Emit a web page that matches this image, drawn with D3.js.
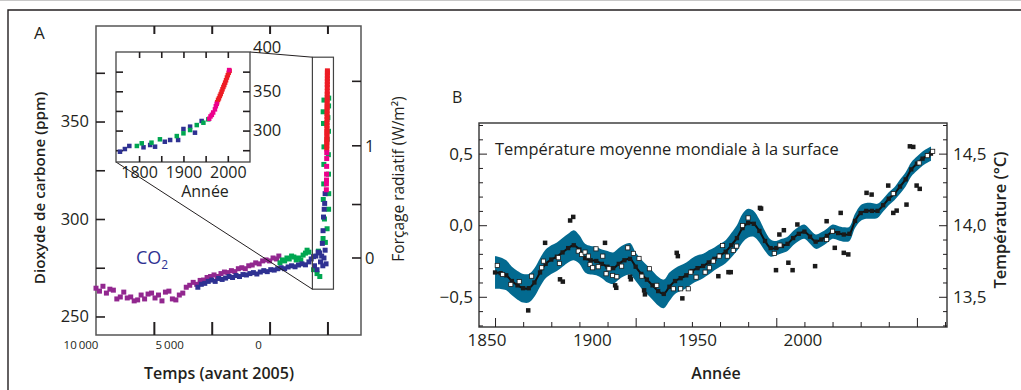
<!DOCTYPE html>
<html>
<head>
<meta charset="utf-8">
<script src="https://cdn.jsdelivr.net/npm/d3@7/dist/d3.min.js"></script>
<style>
  body { margin: 0; background: #fff; }
  svg { display: block; font-family: "Open Sans", sans-serif; }
</style>
</head>
<body>
<svg id="chart" width="1021" height="390"></svg>
<script>
// ---------- panel A : CO2 over the last 10 000 years (years before 2005, ppm) ----------
const purpleCO2 = [
  [10000, 264.5], [9850, 263], [9700, 265.5], [9550, 262], [9400, 264], [9250, 263.5], [9100, 259],
  [8950, 260], [8800, 262.5], [8650, 259.5], [8500, 260], [8350, 258], [8200, 258.5], [8050, 261],
  [7900, 259], [7750, 261.5], [7600, 262], [7450, 259.5], [7300, 261], [7150, 258], [7000, 262.5],
  [6850, 263], [6700, 259], [6550, 258.5], [6400, 261], [6250, 262], [6100, 265], [5950, 266],
  [5800, 267.5], [5650, 266.5], [5500, 268.5], [5350, 268.7], [5200, 270], [5050, 270.5], [4900, 271.3],
  [4750, 270.5], [4600, 272], [4450, 272.8], [4300, 272.5], [4150, 273.5], [4000, 273], [3850, 274.5],
  [3700, 275], [3550, 274.5], [3400, 276], [3250, 276.4], [3100, 277.5], [2950, 277], [2800, 278.5],
  [2650, 279], [2500, 278.5], [2350, 280], [2200, 279.5], [2100, 281]
];
const blueCO2 = [
  [5600, 265], [5450, 266.5], [5300, 267], [5150, 268], [5000, 268.7], [4850, 268], [4700, 269.5],
  [4550, 269], [4400, 269.7], [4250, 270.5], [4100, 270], [3950, 271], [3800, 270.5], [3650, 271.5],
  [3500, 271.3], [3350, 272], [3200, 272.5], [3050, 271.8], [2900, 272.8], [2750, 273.5], [2600, 273],
  [2450, 274], [2300, 273.8], [2150, 274.5], [2000, 275], [1850, 274.5], [1700, 275.4], [1550, 276],
  [1400, 275.5], [1250, 276.4], [1100, 277], [950, 276.5], [800, 278], [700, 279.5], [600, 280.7],
  [560, 276], [500, 281], [450, 274], [400, 283], [340, 282.6], [300, 278], [250, 281], [200, 276],
  [150, 280], [100, 284], [60, 277], [220, 287.5], [190, 294], [170, 301], [140, 305], [120, 308], [100, 313]
];
const greenCO2 = [
  [2050, 277.5], [1950, 279], [1850, 278.5], [1750, 280], [1650, 279.5], [1550, 281], [1450, 280.5],
  [1350, 279], [1250, 280], [1150, 279], [1050, 281.5], [950, 282.5], [880, 284], [800, 283],
  [600, 274], [450, 272], [390, 283.5], [330, 270.5],
  [190, 290], [90, 288], [15, 295], [130, 300], [-50, 305], [180, 310], [-55, 313], [160, 318],
  [-45, 323], [155, 328], [-40, 333], [150, 337], [10, 341], [-45, 345], [170, 349], [-20, 352],
  [185, 355], [-50, 358], [150, 361], [-55, 362]
];
// recent records by calendar year (shared by the main plot and the inset)
const magentaCO2 = [[1958, 315], [1961, 318], [1964, 320], [1967, 323], [1971, 327], [1973, 331], [1975, 334], [2003, 377]];
const redCO2 = [
  [1976, 336], [1977, 337.5], [1978, 339], [1979, 340], [1980, 341], [1981, 342.5], [1982, 344],
  [1983, 345], [1984, 346.5], [1985, 348], [1986, 349.5], [1987, 351], [1988, 352.5], [1989, 354],
  [1990, 355.5], [1991, 357], [1992, 358], [1993, 359.5], [1994, 361], [1995, 362.5], [1996, 364],
  [1997, 365.5], [1998, 367.5], [1999, 369], [2000, 370.5], [2001, 372], [2002, 373.5], [2003, 375],
  [2004, 376]
];
// inset, calendar years
const insetBlue = [
  [1757, 273.1], [1768, 276.5], [1778, 280.4], [1810, 278.7], [1825, 281.6], [1836, 279.5], [1858, 285.8],
  [1870, 288], [1888, 288], [1900, 302], [1915, 305], [1926, 297.3], [1941, 312.2]
];
const insetGreen = [
  [1795, 280.4], [1806, 283.8], [1828, 284.6], [1847, 288.9], [1885, 293], [1900, 296.5],
  [1915, 300.7], [1930, 307], [1945, 310], [1956, 314.3]
];
const co2Ticks = [250, 275, 300, 325, 350, 375];
const co2Labels = [250, 300, 350];
const timeTicks = [7500, 5000, 2500, 0];
const timeLabels = [10000, 5000, 0];
const forcingTicks = [0, 0.5, 1, 1.5];
const forcingLabels = [0, 1];
const insetYearTicks = [1800, 1850, 1900, 1950, 2000];
const insetYearLabels = [1800, 1900, 2000];
const insetCO2Ticks = [275, 300, 325, 350, 375];
const insetCO2Labels = [300, 350, 400];

// ---------- panel B : global mean surface temperature anomaly ----------
// [year, smoothed anomaly, half width of the uncertainty band]
const smoothTemp = [
  [1850, -0.33, 0.115], [1852, -0.335, 0.11], [1854, -0.35, 0.105], [1856, -0.39, 0.1], [1858, -0.42, 0.1],
  [1860, -0.44, 0.1], [1862, -0.44, 0.1], [1864, -0.4, 0.1], [1866, -0.33, 0.1], [1868, -0.27, 0.1],
  [1870, -0.24, 0.1], [1872, -0.22, 0.1], [1874, -0.19, 0.1], [1876, -0.16, 0.1], [1878, -0.14, 0.105],
  [1880, -0.17, 0.1], [1882, -0.23, 0.1], [1884, -0.245, 0.1], [1886, -0.25, 0.1], [1888, -0.27, 0.1],
  [1890, -0.29, 0.11], [1892, -0.3, 0.11], [1894, -0.27, 0.11], [1896, -0.245, 0.11], [1898, -0.235, 0.11],
  [1900, -0.29, 0.1], [1902, -0.34, 0.1], [1904, -0.38, 0.1], [1906, -0.42, 0.1], [1908, -0.46, 0.1],
  [1910, -0.48, 0.1], [1912, -0.43, 0.1], [1914, -0.39, 0.09], [1916, -0.37, 0.09], [1918, -0.35, 0.09],
  [1920, -0.32, 0.09], [1922, -0.3, 0.09], [1924, -0.285, 0.085], [1926, -0.26, 0.085], [1928, -0.235, 0.08],
  [1930, -0.21, 0.08], [1932, -0.185, 0.08], [1934, -0.14, 0.085], [1936, -0.09, 0.09], [1938, -0.02, 0.1],
  [1940, 0.015, 0.1], [1942, 0.01, 0.09], [1944, -0.04, 0.08], [1946, -0.11, 0.07], [1948, -0.16, 0.06],
  [1950, -0.16, 0.05], [1952, -0.145, 0.05], [1954, -0.13, 0.05], [1956, -0.09, 0.05], [1958, -0.06, 0.05],
  [1960, -0.045, 0.05], [1962, -0.08, 0.05], [1964, -0.115, 0.05], [1966, -0.1, 0.05], [1968, -0.075, 0.05],
  [1970, -0.045, 0.05], [1972, -0.055, 0.05], [1974, -0.065, 0.05], [1976, -0.06, 0.05], [1978, 0.03, 0.05],
  [1980, 0.085, 0.055], [1982, 0.1, 0.055], [1984, 0.1, 0.055], [1986, 0.1, 0.05], [1988, 0.14, 0.045],
  [1990, 0.185, 0.045], [1992, 0.22, 0.045], [1994, 0.27, 0.05], [1996, 0.32, 0.05], [1998, 0.39, 0.05],
  [2000, 0.43, 0.05], [2002, 0.465, 0.05], [2004, 0.49, 0.05], [2005, 0.5, 0.05]
];
const annualTemp = [
  [1861.8, -0.595], [1867.8, -0.123], [1873.1, -0.378], [1874.1, -0.394], [1876.7, 0.033], [1877.8, 0.058],
  [1889.1, -0.123], [1892.7, -0.42], [1893.1, -0.437], [1898, -0.36], [1898.3, -0.378], [1903, -0.455],
  [1903.3, -0.483], [1914.6, -0.193], [1915, -0.216], [1916.6, -0.511], [1929.4, -0.356], [1933, -0.328],
  [1933.8, -0.328], [1944.2, 0.121], [1944.6, 0.116], [1949.9, -0.314], [1951.1, -0.065], [1952.7, -0.035],
  [1954.3, -0.262], [1955.8, -0.314], [1957.5, 0.005], [1963.8, -0.286], [1967.9, 0.028], [1970.8, -0.158],
  [1972.9, 0.086], [1974, -0.193], [1975.6, -0.204], [1982.1, 0.226], [1983.9, 0.214], [1989.8, 0.277],
  [1991.6, 0.086], [1992.8, 0.102], [1996.3, 0.144], [1997.5, 0.551], [1998.7, 0.547], [1999.9, 0.277],
  [2001, 0.254]
];
const openTemp = [
  [1850.8, -0.281], [1852.7, -0.344], [1855.6, -0.414], [1858.6, -0.394], [1863, -0.356], [1866.6, -0.297],
  [1867.2, -0.251], [1872.5, -0.227], [1872.9, -0.267], [1879.6, -0.181], [1880.8, -0.204], [1882, -0.188],
  [1883.2, -0.216], [1883.8, -0.274], [1884.7, -0.297], [1885.9, -0.165], [1886.7, -0.29], [1888.3, -0.216],
  [1889.5, -0.339], [1890.5, -0.304], [1891.8, -0.351], [1893.3, -0.36], [1895, -0.286], [1897.2, -0.158],
  [1899.2, -0.197], [1901.2, -0.232], [1902.2, -0.356], [1904.9, -0.304], [1907.5, -0.42], [1913.4, -0.444],
  [1916, -0.444], [1918.7, -0.444], [1919.6, -0.328], [1921.5, -0.363], [1924.7, -0.328], [1926.2, -0.297],
  [1927.6, -0.251], [1929.7, -0.216], [1930.9, -0.142], [1932.6, -0.216], [1934.7, -0.176], [1935.9, -0.146],
  [1938, -0.002], [1940, 0.051], [1949.3, -0.197], [1951.3, -0.139], [1967.9, -0.1], [1970, -0.042],
  [1991.6, 0.221], [2000.8, 0.435], [2003.7, 0.486], [2005.6, 0.516]
];
const anomalyTicks = [-0.7, -0.6, -0.5, -0.4, -0.3, -0.2, -0.1, 0, 0.1, 0.2, 0.3, 0.4, 0.5, 0.6, 0.7];
const anomalyLabels = [-0.5, 0, 0.5];
const tempLabels = [13.5, 14.0, 14.5];
const yearTicks = d3.range(1850, 2011, 10);
const yearLabels = [1850, 1900, 1950, 2000];

const ink = '#231f20';
const colors = { purple: '#92278f', blue: '#2e3192', green: '#00a651', magenta: '#ec008c', red: '#ed1c24', band: '#036a90' };
const baseYear = 2005;      // "avant 2005"
const co2Ref = 280;         // pre-industrial CO2 for the forcing scale
const absTemp = 14.0;       // absolute temperature of the zero anomaly
const fmt = (v, d) => d3.format(`.${d}f`)(v).replace('.', ',').replace('-', '\u2212');

const svg = d3.select('#chart');

function squares(g, data, fx, fy, size, fill, stroke) {
  g.append('g').selectAll('rect').data(data).join('rect')
    .attr('x', (d) => fx(d) - size / 2)
    .attr('y', (d) => fy(d) - size / 2)
    .attr('width', size)
    .attr('height', size)
    .attr('fill', fill)
    .attr('stroke', stroke || 'none')
    .attr('stroke-width', stroke ? 0.8 : null);
}

function styleAxis(g, size) {
  g.attr('font-family', null).attr('font-size', size);
  g.select('.domain').remove();
  g.selectAll('line').attr('stroke', ink);
  g.selectAll('text').attr('fill', ink);
}

// outer frame
svg.append('line').attr('x1', 0).attr('x2', 1021).attr('y1', 0.5).attr('y2', 0.5).attr('stroke', '#c8c8c8');
svg.append('path').attr('d', 'M8,390V10H1021').attr('fill', 'none').attr('stroke', ink).attr('stroke-width', 1.4);

// ================= panel A =================
const boxA = { left: 96, right: 361, top: 26, bottom: 335 };
const xA = d3.scaleLinear().domain([10000, -1450]).range([boxA.left, boxA.right]);
const yA = d3.scaleLinear().domain([240.5, 399]).range([boxA.bottom, boxA.top]);
const gA = svg.append('g');

svg.append('text').attr('x', 34).attr('y', 39).attr('font-size', 17).attr('fill', ink).text('A');

gA.append('rect')
  .attr('x', boxA.left).attr('y', boxA.top)
  .attr('width', boxA.right - boxA.left).attr('height', boxA.bottom - boxA.top)
  .attr('fill', 'none').attr('stroke', '#555').attr('stroke-width', 1.5);

gA.append('g').attr('transform', `translate(${boxA.left},0)`)
  .call(d3.axisLeft(yA).tickValues(co2Ticks).tickSize(-9).tickPadding(7)
    .tickFormat((d) => (co2Labels.includes(d) ? d : '')))
  .call((g) => styleAxis(g, 16.5))
  .call((g) => g.selectAll('line').attr('stroke-width', 1.6));

gA.append('g').attr('transform', `translate(0,${boxA.top})`)
  .call(d3.axisTop(xA).tickValues(timeTicks).tickSize(-8).tickFormat(''))
  .call((g) => styleAxis(g, 11))
  .call((g) => g.selectAll('line').attr('stroke-width', 2));

gA.append('g').attr('transform', `translate(0,${boxA.bottom})`)
  .call(d3.axisBottom(xA).tickValues(timeTicks).tickSize(-13).tickFormat(''))
  .call((g) => styleAxis(g, 11))
  .call((g) => g.selectAll('line').attr('stroke-width', 2));

// the source prints its time labels left of their ticks
const xLabelA = d3.scaleLinear().domain([10000, 0]).range([xA(10000) - 15, xA(0) - 69]);
gA.append('g').selectAll('text').data(timeLabels).join('text')
  .attr('x', (d) => xLabelA(d)).attr('y', 349)
  .attr('text-anchor', 'middle').attr('font-size', 11.5).attr('fill', ink)
  .text((d) => d3.format(',')(d).replace(',', '\u2009'));

// radiative forcing axis: F = 5.35 ln(C / C0)
const yForcing = (f) => yA(co2Ref * Math.exp(f / 5.35));
gA.append('g').selectAll('line').data(forcingTicks).join('line')
  .attr('x1', boxA.right - 9).attr('x2', boxA.right)
  .attr('y1', yForcing).attr('y2', yForcing)
  .attr('stroke', ink).attr('stroke-width', 1.6);
gA.append('g').selectAll('text').data(forcingLabels).join('text')
  .attr('x', boxA.right + 4).attr('y', yForcing).attr('dy', '0.35em')
  .attr('font-size', 16.5).attr('fill', ink).text((d) => d);

// series
const bpX = (d) => xA(d[0]);
const yearX = (d) => xA(baseYear - d[0]);
const co2Y = (d) => yA(d[1]);
squares(gA, purpleCO2, bpX, co2Y, 5, colors.purple);
squares(gA, greenCO2, bpX, co2Y, 5, colors.green);
squares(gA, blueCO2, bpX, co2Y, 5, colors.blue);
squares(gA, redCO2, yearX, co2Y, 5, colors.red);
squares(gA, magentaCO2.filter((d) => d[0] < 1990), yearX, co2Y, 5, colors.magenta);

gA.append('text').attr('x', 136).attr('y', 264).attr('font-size', 18).attr('fill', colors.blue)
  .text('CO').append('tspan').attr('font-size', 12).attr('dy', 5).text('2');

// zoom box and connectors
const zoomBp = [650, -260];
const zoomCO2 = [264, 383];
const boxI = { left: 116, right: 250, top: 52, bottom: 162 };
gA.append('rect')
  .attr('x', xA(zoomBp[0])).attr('y', yA(zoomCO2[1]))
  .attr('width', xA(zoomBp[1]) - xA(zoomBp[0])).attr('height', yA(zoomCO2[0]) - yA(zoomCO2[1]))
  .attr('fill', 'none').attr('stroke', '#444').attr('stroke-width', 1.2);
gA.append('line')
  .attr('x1', boxI.right).attr('y1', boxI.top).attr('x2', xA(zoomBp[0])).attr('y2', yA(zoomCO2[1]))
  .attr('stroke', ink).attr('stroke-width', 1);
gA.append('line')
  .attr('x1', boxI.left).attr('y1', boxI.bottom).attr('x2', xA(zoomBp[0])).attr('y2', yA(zoomCO2[0]))
  .attr('stroke', ink).attr('stroke-width', 1);

// inset
const xI = d3.scaleLinear().domain([1748, 2050]).range([boxI.left, boxI.right]);
const yI = d3.scaleLinear().domain([260, 400]).range([boxI.bottom, boxI.top]);
const gI = svg.append('g');
gI.append('rect')
  .attr('x', boxI.left).attr('y', boxI.top)
  .attr('width', boxI.right - boxI.left).attr('height', boxI.bottom - boxI.top)
  .attr('fill', '#fff').attr('stroke', '#444').attr('stroke-width', 1.3);
gI.append('g').attr('transform', `translate(0,${boxI.top})`)
  .call(d3.axisTop(xI).tickValues(insetYearTicks).tickSize(-6).tickFormat(''))
  .call((g) => styleAxis(g, 11)).call((g) => g.selectAll('line').attr('stroke-width', 1.6));
gI.append('g').attr('transform', `translate(0,${boxI.bottom})`)
  .call(d3.axisBottom(xI).tickValues(insetYearTicks).tickSize(-6).tickPadding(5)
    .tickFormat((d) => (insetYearLabels.includes(d) ? d : '')))
  .call((g) => styleAxis(g, 16)).call((g) => g.selectAll('line').attr('stroke-width', 1.6));
gI.append('g').attr('transform', `translate(${boxI.left},0)`)
  .call(d3.axisLeft(yI).tickValues(insetCO2Ticks).tickSize(-7).tickFormat(''))
  .call((g) => styleAxis(g, 11)).call((g) => g.selectAll('line').attr('stroke-width', 1.6));
gI.append('g').attr('transform', `translate(${boxI.right},0)`)
  .call(d3.axisRight(yI).tickValues(insetCO2Ticks).tickSize(-7).tickFormat(''))
  .call((g) => styleAxis(g, 11)).call((g) => g.selectAll('line').attr('stroke-width', 1.6));
// the topmost label sits a little above the frame in the source
gI.append('g').selectAll('text').data(insetCO2Labels).join('text')
  .attr('x', boxI.right + 3).attr('y', (d) => yI(d) - (d === 400 ? 5 : 0)).attr('dy', '0.35em')
  .attr('font-size', 16.5).attr('fill', ink).text((d) => d);
gI.append('text').attr('x', (boxI.left + boxI.right) / 2 + 22).attr('y', boxI.bottom + 35)
  .attr('text-anchor', 'middle').attr('font-size', 16).attr('fill', ink).text('Année');

const insetX = (d) => xI(d[0]);
const insetY = (d) => yI(d[1]);
squares(gI, insetBlue, insetX, insetY, 4.5, colors.blue);
squares(gI, insetGreen, insetX, insetY, 4.5, colors.green);
squares(gI, redCO2.filter((d, i) => i % 2 === 0), insetX, insetY, 4.5, colors.red);
squares(gI, magentaCO2, insetX, insetY, 4.5, colors.magenta);

// axis titles A
svg.append('text')
  .attr('transform', 'translate(45,188) rotate(-90)')
  .attr('text-anchor', 'middle').attr('font-size', 15.2).attr('font-weight', 600).attr('fill', ink)
  .text('Dioxyde de carbone (ppm)');
svg.append('text')
  .attr('transform', 'translate(404,179) rotate(-90)')
  .attr('text-anchor', 'middle').attr('font-size', 15.5).attr('font-weight', 500).attr('fill', ink)
  .text('Forçage radiatif (W/m²)');
svg.append('text').attr('x', 219).attr('y', 379)
  .attr('text-anchor', 'middle').attr('font-size', 16).attr('font-weight', 600).attr('fill', ink)
  .text('Temps (avant 2005)');

// ================= panel B =================
const boxB = { left: 479, right: 947, top: 123, bottom: 327 };
const xB = d3.scaleLinear().domain([1844.3, 2010.7]).range([boxB.left, boxB.right]);
const yB = d3.scaleLinear().domain([-0.711, 0.714]).range([boxB.bottom, boxB.top]);
const gB = svg.append('g');

svg.append('text').attr('x', 452).attr('y', 103).attr('font-size', 16).attr('fill', ink).text('B');

gB.append('path').datum(smoothTemp)
  .attr('fill', colors.band)
  .attr('d', d3.area()
    .x((d) => xB(d[0]))
    .y0((d) => yB(d[1] - d[2]))
    .y1((d) => yB(d[1] + d[2]))
    .curve(d3.curveCatmullRom));
gB.append('path').datum(smoothTemp)
  .attr('fill', 'none').attr('stroke', '#111').attr('stroke-width', 2)
  .attr('d', d3.line().x((d) => xB(d[0])).y((d) => yB(d[1])).curve(d3.curveCatmullRom));
squares(gB, smoothTemp, (d) => xB(d[0]), (d) => yB(d[1]), 4.3, '#1a1a1a');
squares(gB, annualTemp, (d) => xB(d[0]), (d) => yB(d[1]), 4.5, '#1a1a1a');
squares(gB, openTemp, (d) => xB(d[0]), (d) => yB(d[1]), 4.2, '#fff', '#1a1a1a');

gB.append('rect')
  .attr('x', boxB.left).attr('y', boxB.top)
  .attr('width', boxB.right - boxB.left).attr('height', boxB.bottom - boxB.top)
  .attr('fill', 'none').attr('stroke', '#333').attr('stroke-width', 1.4);

const minorB = (d) => !anomalyLabels.some((m) => Math.abs(m - d) < 1e-9);
gB.append('g').attr('transform', `translate(${boxB.left},0)`)
  .call(d3.axisLeft(yB).tickValues(anomalyTicks.filter(minorB)).tickSize(-4).tickFormat(''))
  .call((g) => styleAxis(g, 11));
gB.append('g').attr('transform', `translate(${boxB.left},0)`)
  .call(d3.axisLeft(yB).tickValues(anomalyLabels).tickSize(-8).tickPadding(6).tickFormat((d) => fmt(d, 1)))
  .call((g) => styleAxis(g, 17));
gB.append('g').attr('transform', `translate(${boxB.right},0)`)
  .call(d3.axisRight(yB).tickValues(anomalyTicks.filter(minorB)).tickSize(-4).tickFormat(''))
  .call((g) => styleAxis(g, 11));
gB.append('g').attr('transform', `translate(${boxB.right},0)`)
  .call(d3.axisRight(yB).tickValues(tempLabels.map((t) => t - absTemp)).tickSize(-8).tickPadding(6)
    .tickFormat((d) => fmt(d + absTemp, 1)))
  .call((g) => styleAxis(g, 17));
gB.append('g').attr('transform', `translate(0,${boxB.bottom})`)
  .call(d3.axisBottom(xB).tickValues(yearTicks.filter((y) => y % 50 !== 0)).tickSize(-5).tickFormat(''))
  .call((g) => styleAxis(g, 11));
gB.append('g').attr('transform', `translate(0,${boxB.bottom})`)
  .call(d3.axisBottom(xB).tickValues(yearTicks.filter((y) => y % 50 === 0)).tickSize(-9).tickFormat(''))
  .call((g) => styleAxis(g, 11));

// the source prints its year labels left of their ticks
const xLabelB = d3.scaleLinear().domain([1850, 2000]).range([xB(1850) - 8, xB(2000) - 114]);
gB.append('g').selectAll('text').data(yearLabels).join('text')
  .attr('x', (d) => xLabelB(d)).attr('y', 346)
  .attr('text-anchor', 'middle').attr('font-size', 17).attr('fill', ink).text((d) => d);

gB.append('text').attr('x', 495).attr('y', 155).attr('font-size', 16.4).attr('fill', ink)
  .text('Température moyenne mondiale à la surface');
svg.append('text').attr('x', 716).attr('y', 379)
  .attr('text-anchor', 'middle').attr('font-size', 16).attr('font-weight', 600).attr('fill', ink)
  .text('Année');
svg.append('text')
  .attr('transform', `translate(1006,${(boxB.top + boxB.bottom) / 2 - 5}) rotate(-90)`)
  .attr('text-anchor', 'middle').attr('font-size', 16.5).attr('font-weight', 600).attr('fill', ink)
  .text('Température (°C)');
</script>
</body>
</html>
